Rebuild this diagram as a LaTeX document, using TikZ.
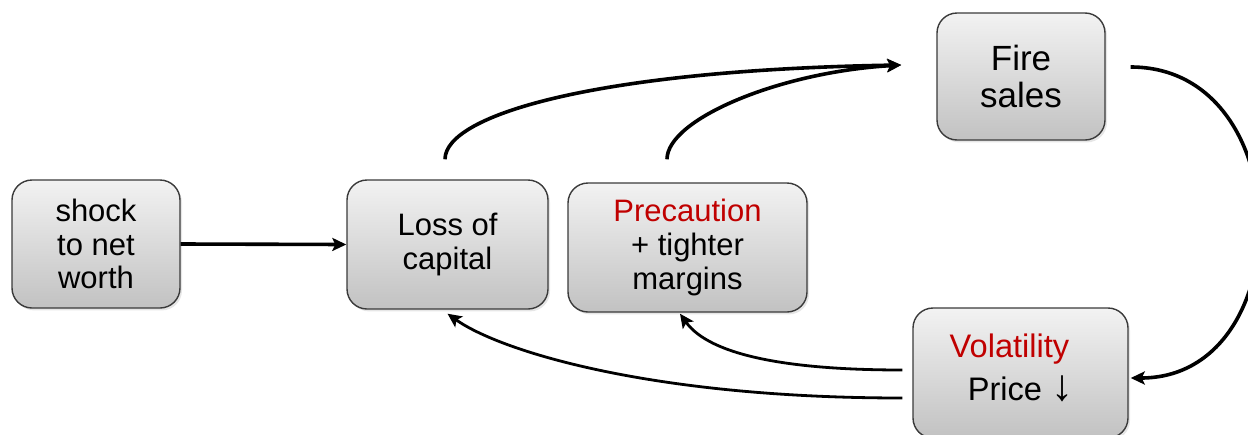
\documentclass[tikz,border=0pt]{standalone}
\usepackage{fontspec}
\usepackage{graphicx}
\setmainfont{Liberation Sans}
\usetikzlibrary{arrows.meta,shadows}
\definecolor{boxline}{HTML}{3A3A3A}
\definecolor{hot}{HTML}{C00000}
\begin{document}
\begin{tikzpicture}[x=0.5pt,y=-0.5pt,
  card/.style={draw=boxline, line width=0.7pt, rounded corners=10pt,
    top color=gray!10, bottom color=gray!48, align=center, inner sep=0pt,
    drop shadow={shadow xshift=1pt,shadow yshift=-1.2pt,opacity=0.2}},
  txt/.style={font=\fontsize{15.5}{16.8}\selectfont},
  big/.style={font=\fontsize{17.5}{18.5}\selectfont},
  vtxt/.style={font=\fontsize{16.3}{21.5}\selectfont},
  link/.style={line width=1.8pt, -{Stealth[length=7pt,width=6.5pt,inset=1.5pt]}},
  back/.style={line width=1.4pt, -{Stealth[length=7pt,width=6.5pt,inset=1.5pt]}}]
\useasboundingbox (0,0) rectangle (1248,434);

% boxes
\node[card,txt,minimum width=84pt,minimum height=64pt] (shock) at (96,244) {shock\\to net\\worth};
\node[card,txt,minimum width=100.5pt,minimum height=64.5pt] (loss) at (447.5,244.5) {Loss of\\capital};
\node[card,txt,minimum width=119.5pt,minimum height=64.5pt] (prec) at (687.5,247.5) {\textcolor{hot}{Precaution}\\+ tighter\\margins};
\node[card,big,minimum width=84pt,minimum height=63.5pt] (fire) at (1021,76.5) {Fire\\sales};
\node[card,vtxt,minimum width=107.5pt,minimum height=65pt] (vol) at (1020.5,373) {\textcolor{hot}{Volatility}\kern11pt\\Price \scalebox{1.35}{↓}\raisebox{0pt}[0pt][6pt]{}};

% connector end points
\coordinate (lossout) at ([xshift=-1.25pt,yshift=10pt]loss.north);
\coordinate (precout) at ([xshift=-10.25pt,yshift=11.5pt]prec.north);
\coordinate (firein) at ([xshift=-17.5pt,yshift=5.75pt]fire.west);
\coordinate (fireout) at ([xshift=12.5pt,yshift=4.75pt]fire.east);
\coordinate (volin) at ([xshift=1pt,yshift=-2.5pt]vol.east);
\coordinate (volouthi) at ([xshift=-5pt,yshift=1.5pt]vol.west);
\coordinate (voloutlo) at ([xshift=-5pt,yshift=-12.5pt]vol.west);
\coordinate (precin) at ([xshift=-3.75pt,yshift=-0.5pt]prec.south);
\coordinate (lossin) at ([yshift=-2pt]loss.south);

% connectors
\draw[link] (shock.east) -- (loss.west);
\draw[link] (lossout) .. controls +(0,-45) and +(-302,5) .. (firein);
\draw[link] (precout) .. controls +(0,-40) and +(-122,7) .. (firein);
\draw[link] (fireout) .. controls +(170,0) and +(170,0) .. (volin);
\draw[back] (volouthi) .. controls +(-113,0) and +(30,42) .. (precin);
\draw[back] (voloutlo) .. controls +(-253,0) and +(52,37) .. (lossin);
\end{tikzpicture}
\end{document}
